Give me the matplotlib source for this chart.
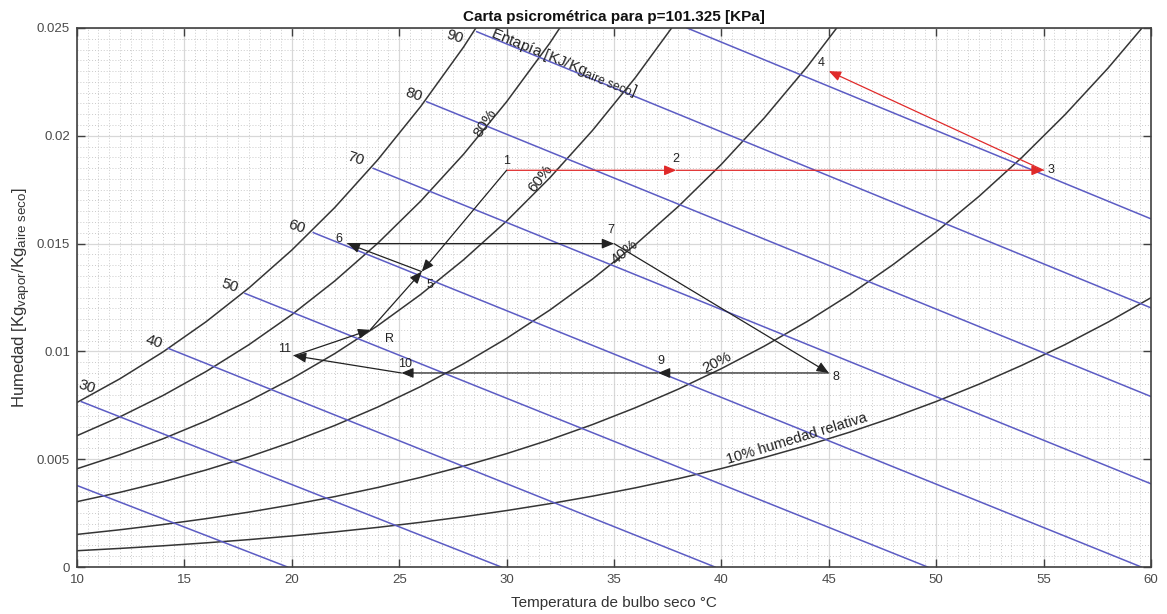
import numpy as np
import matplotlib
matplotlib.use("Agg")
import matplotlib.pyplot as plt
from matplotlib.ticker import MultipleLocator, FixedLocator

try:
    import matplotlib._mathtext as _mt
    _mt.SHRINK_FACTOR = 0.8
except Exception:
    pass

plt.rcParams['font.family'] = ['Liberation Sans', 'DejaVu Sans']
plt.rcParams['mathtext.fontset'] = 'custom'
plt.rcParams['mathtext.rm'] = 'Liberation Sans'
plt.rcParams['mathtext.it'] = 'Liberation Sans:italic'

# ---------------- data ----------------
temps = [10, 12, 14, 16, 18, 20, 22, 24, 26, 28, 30, 32, 34, 36, 38, 40,
         42, 44, 46, 48, 50, 52, 54, 56, 58, 60]

rh100 = [0.007632, 0.008732, 0.009973, 0.011369, 0.012938, 0.014699, 0.016673,
         0.018884, 0.021358, 0.024122, 0.027210]
rh80 = [0.006091, 0.006966, 0.007953, 0.009062, 0.010308, 0.011704, 0.013267,
        0.015016, 0.016970, 0.019149, 0.021579, 0.024285, 0.027296]
rh60 = [0.004557, 0.005210, 0.005946, 0.006772, 0.007699, 0.008737, 0.009898,
        0.011194, 0.012641, 0.014252, 0.016045, 0.018038, 0.020250, 0.022707,
        0.025432]
rh40 = [0.003031, 0.003464, 0.003951, 0.004498, 0.005111, 0.005797, 0.006564,
        0.007418, 0.008370, 0.009429, 0.010605, 0.011910, 0.013355, 0.014956,
        0.016727, 0.018678, 0.020834, 0.023210, 0.025828]
rh20 = [0.001512, 0.001727, 0.001969, 0.002241, 0.002545, 0.002885, 0.003265,
        0.003687, 0.004157, 0.004679, 0.005258, 0.005898, 0.006607, 0.007389,
        0.008252, 0.009201, 0.010245, 0.011392, 0.012651, 0.014032, 0.015544,
        0.017198, 0.019007, 0.020983, 0.023139, 0.025492]
rh10 = [0.000755, 0.000862, 0.000983, 0.001119, 0.001270, 0.001439, 0.001628,
        0.001838, 0.002072, 0.002331, 0.002618, 0.002935, 0.003286, 0.003673,
        0.004099, 0.004567, 0.005081, 0.005645, 0.006262, 0.006938, 0.007676,
        0.008482, 0.009360, 0.010317, 0.011358, 0.012490]

# enthalpy lines [kJ/kg aire seco]: start point (on saturation / edge) and T where w=0
enth_values = [20, 30, 40, 50, 60, 70, 80, 90, 100]
enth_T_start = [10.0, 10.2, 14.25, 17.82, 21.0, 23.79, 26.28, 28.61, 38.4]
enth_w_start = [0.00378, 0.00767, 0.01014, 0.01269, 0.01551, 0.01849, 0.02158, 0.02483, 0.0250]
enth_T_zero = [19.8, 29.75, 39.7, 49.6, 59.55, 69.55, 79.5, 89.45, 99.4]
enth_labelled = [30, 40, 50, 60, 70, 80, 90]

# process states (T [C], w [kg/kg])
state_names = ['1', '2', '3', '4', '5', '6', '7', '8', '9', '10', '11', 'R']
state_T = [30.0, 37.9, 55.0, 45.0, 26.05, 22.6, 35.0, 45.0, 37.05, 25.1, 20.1, 23.65]
state_w = [0.0184, 0.0184, 0.0184, 0.0230, 0.0137, 0.0150, 0.0150, 0.0090, 0.0090,
           0.0090, 0.0098, 0.0110]

red_path = [('1', '2'), ('2', '3'), ('3', '4')]
black_path = [('1', '5'), ('R', '5'), ('5', '6'), ('6', '7'), ('7', '8'), ('8', '9'),
              ('9', '10'), ('10', '11'), ('11', 'R')]

xticks = [10, 15, 20, 25, 30, 35, 40, 45, 50, 55, 60]
yticks = [0, 0.005, 0.01, 0.015, 0.02, 0.025]
ytick_labels = ['0', '0.005', '0.01', '0.015', '0.02', '0.025']

# ---------------- figure ----------------
W, H = 1167, 614
fig = plt.figure(figsize=(W / 100, H / 100), dpi=100)
ax = fig.add_axes([77 / W, (H - 567) / H, (1151 - 77) / W, (567 - 28) / H])
ax.set_xlim(10, 60)
ax.set_ylim(0, 0.025)

# grid
ax.xaxis.set_major_locator(FixedLocator(xticks))
ax.yaxis.set_major_locator(FixedLocator(yticks))
ax.set_yticklabels(ytick_labels)
ax.xaxis.set_minor_locator(MultipleLocator(0.5))
ax.yaxis.set_minor_locator(MultipleLocator(0.0005))
ax.grid(which='major', color='#d8d8d8', lw=0.9, ls='-', zorder=0)
ax.grid(which='minor', color='#cbcbcb', lw=0.7, ls=(0, (1, 2)), zorder=0)
ax.set_axisbelow(True)
ax.tick_params(which='major', direction='in', length=6, width=1.0, color='#404040',
               top=True, right=True, labelsize=9.5, labelcolor='#4a4a4a', pad=5)
ax.tick_params(which='minor', length=0, top=True, right=True)
for s in ax.spines.values():
    s.set_color('#404040')
    s.set_linewidth(1.2)

# relative humidity curves
curve_col = '#353535'
for c in [rh100, rh80, rh60, rh40, rh20, rh10]:
    ax.plot(temps[:len(c)], c, color=curve_col, lw=1.1, zorder=2)

# enthalpy lines
blue = '#5c5cc4'
enth_label_off = {30: (5, 15), 40: (-14, 7), 50: (-15, 8), 60: (-17, 6), 70: (-18, 10),
                  80: (-13, 7), 90: (-22, -5)}
for h, ts, ws, tz in zip(enth_values, enth_T_start, enth_w_start, enth_T_zero):
    ax.plot([ts, tz], [ws, 0.0], color=blue, lw=1.1, zorder=2)
    if h in enth_labelled:
        ax.annotate(str(h), xy=(ts, ws), xytext=enth_label_off[h],
                    textcoords='offset pixels', ha='center', va='center',
                    fontsize=11, color='#222222', rotation=-18)

ax.text(29.2, 0.02462, 'Entapía [KJ/Kg$_{\\mathrm{aire\\ seco}}$]', rotation=-22.3,
        rotation_mode='anchor', ha='left', va='baseline', fontsize=11, color='#222222',
        zorder=3)

# RH labels
rh_texts = [('80%', 29.0, 0.0206, 57), ('60%', 31.6, 0.0180, 52), ('40%', 35.5, 0.0146, 40),
            ('20%', 39.8, 0.0095, 27)]
for t, x, y, r in rh_texts:
    ax.text(x, y, t, rotation=r, rotation_mode='anchor', ha='center', va='center',
            fontsize=11, color='#222222', zorder=3)
ax.text(43.5, 0.00595, '10% humedad relativa', rotation=17, rotation_mode='anchor',
        ha='center', va='center', fontsize=10.5, color='#222222', zorder=3)

# process lines
pt = {n: (x, y) for n, x, y in zip(state_names, state_T, state_w)}


def arrow(a, b, col):
    ax.annotate('', xy=pt[b], xytext=pt[a],
                arrowprops=dict(arrowstyle='-|>,head_length=0.6,head_width=0.25',
                                color=col, lw=0.9, shrinkA=0, shrinkB=0,
                                mutation_scale=12), zorder=4)


for a, b in red_path:
    arrow(a, b, '#e02a2a')
for a, b in black_path:
    arrow(a, b, '#222222')

label_off = {'1': (0, -9), '2': (0, -11), '3': (7, 0), '4': (-8, -8), '5': (8, 13),
             '6': (-9, -5), '7': (-3, -14), '8': (7, 4), '9': (3, -12), '10': (4, -9),
             '11': (-9, -7), 'R': (19, 9)}
for n in state_names:
    dx, dy = label_off[n]
    ax.annotate(n, xy=pt[n], xytext=(dx, -dy), textcoords='offset pixels',
                ha='center', va='center', fontsize=9, color='#222222', zorder=5)

ax.set_title('Carta psicrométrica para p=101.325 [KPa]', fontsize=11, fontweight='bold',
             color='#111111', pad=5)
ax.set_xlabel('Temperatura de bulbo seco °C', fontsize=11, color='#333333', labelpad=7)
ax.set_ylabel('Humedad [Kg$_{\\mathrm{vapor}}$/Kg$_{\\mathrm{aire\\ seco}}$]', fontsize=12,
              color='#333333')
ax.yaxis.set_label_coords(-0.041, 0.5)

fig.savefig('out.png', dpi=100, facecolor='white')
